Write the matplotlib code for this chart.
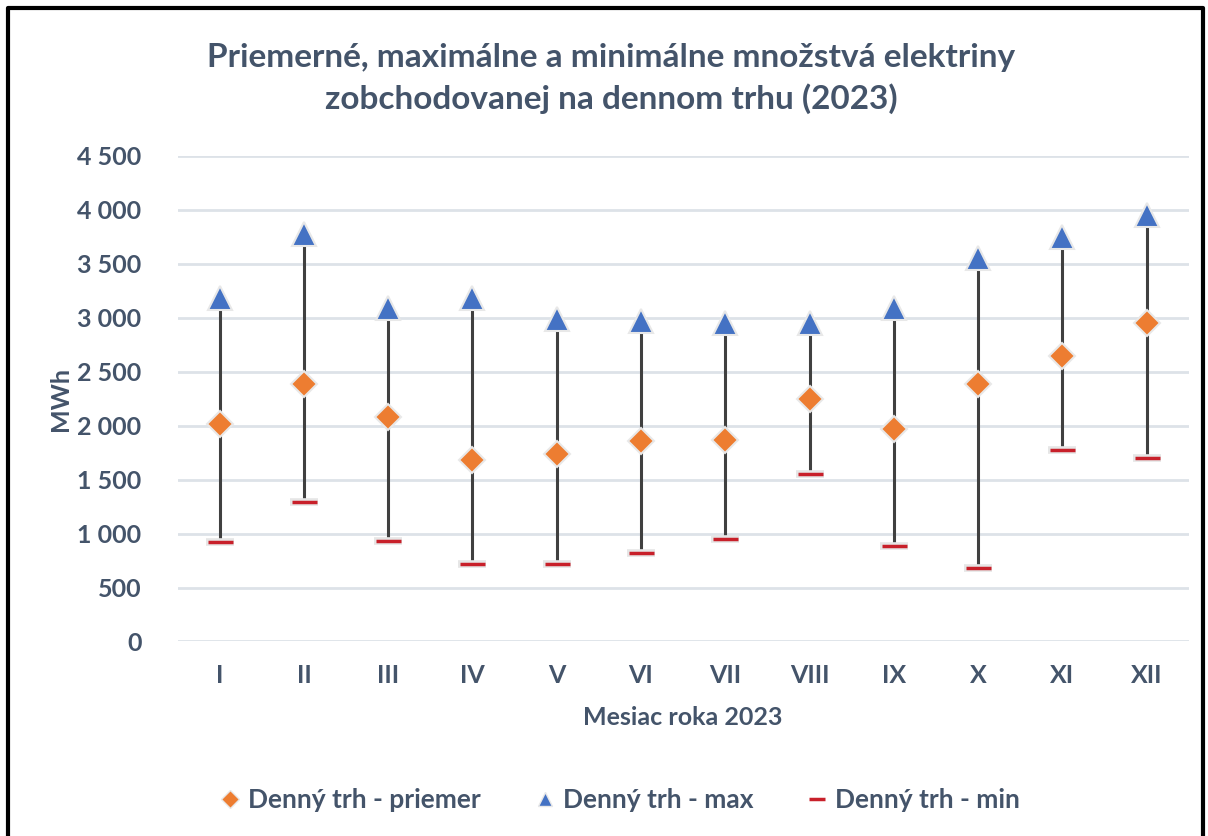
import matplotlib.pyplot as plt
from matplotlib.lines import Line2D

months = ['I', 'II', 'III', 'IV', 'V', 'VI', 'VII', 'VIII', 'IX', 'X', 'XI', 'XII']
priemer = [2017, 2388, 2079, 1684, 1733, 1854, 1863, 2243, 1968, 2388, 2647, 2956]
maximum = [3179, 3778, 3095, 3186, 2984, 2967, 2948, 2948, 3095, 3554, 3744, 3948]
minimum = [924, 1292, 933, 720, 720, 819, 946, 1554, 887, 683, 1770, 1696]
y_ticks = [0, 500, 1000, 1500, 2000, 2500, 3000, 3500, 4000, 4500]

plt.rcParams['font.family'] = ['Lato', 'DejaVu Sans']
plt.rcParams['font.weight'] = 'bold'
plt.rcParams['axes.labelweight'] = 'bold'
txt = '#44546A'

fig = plt.figure(figsize=(12.08, 8.36), dpi=100)
ax = fig.add_axes([0.147, 0.2327, 0.837, 0.5808])
x = list(range(len(months)))

# high-low lines
ax.vlines(x, minimum, maximum, color='#404040', lw=2.2, zorder=2)
ax.plot(x, minimum, ls='none', marker='_', ms=20, mew=5.5, color='#E6E6E6', zorder=3)
ax.plot(x, minimum, ls='none', marker='_', ms=18, mew=2.5, color='#C8202A', zorder=4)
ax.plot(x, priemer, ls='none', marker='D', ms=13, color='#ED7D31',
        mec='#E8E8E8', mew=1.5, zorder=5)
ax.plot(x, maximum, ls='none', marker='^', ms=17, color='#4472C4',
        mec='#E8E8E8', mew=1.5, zorder=5)

ax.set_xlim(-0.5, 11.5)
ax.set_ylim(0, 4500)
ax.set_yticks(y_ticks)
ax.set_yticklabels([f'{v:,}'.replace(',', ' ') for v in y_ticks])
ax.set_xticks(x)
ax.set_xticklabels(months)
ax.grid(axis='y', color='#DDE2E8', lw=2)
ax.set_axisbelow(True)
for s in ax.spines.values():
    s.set_visible(False)
ax.tick_params(length=0, labelsize=18, labelcolor=txt)
ax.tick_params(axis='y', pad=26)
ax.tick_params(axis='x', pad=16)
ax.set_ylabel('MWh', fontsize=18, color=txt, labelpad=4)
ax.set_xlabel('Mesiac roka 2023', fontsize=18, color=txt, labelpad=14)

fig.text(0.506, 0.906, 'Priemerné, maximálne a minimálne množstvá elektriny\nzobchodovanej na dennom trhu (2023)',
         ha='center', va='center', fontsize=24, color=txt, linespacing=1.42)

handles = [
    Line2D([], [], ls='none', marker='D', ms=9, color='#ED7D31', mec='#E8E8E8'),
    Line2D([], [], ls='none', marker='^', ms=10, color='#4472C4', mec='#E8E8E8'),
    Line2D([], [], ls='none', marker='_', ms=12, mew=2.5, color='#C8202A'),
]
fig.legend(handles, ['Denný trh - priemer', 'Denný trh - max', 'Denný trh - min'],
           loc='center', bbox_to_anchor=(0.512, 0.043), ncol=3, frameon=False,
           fontsize=19, labelcolor=txt, handletextpad=0.2, columnspacing=1.9,
           handlelength=1.0)

# outer border (bottom edge cut off)
fig.add_artist(Line2D([0.007, 0.007, 0.996, 0.996], [0.0, 0.991, 0.991, 0.0],
                      transform=fig.transFigure, color='black', lw=3))

fig.savefig('out.png', dpi=100)
